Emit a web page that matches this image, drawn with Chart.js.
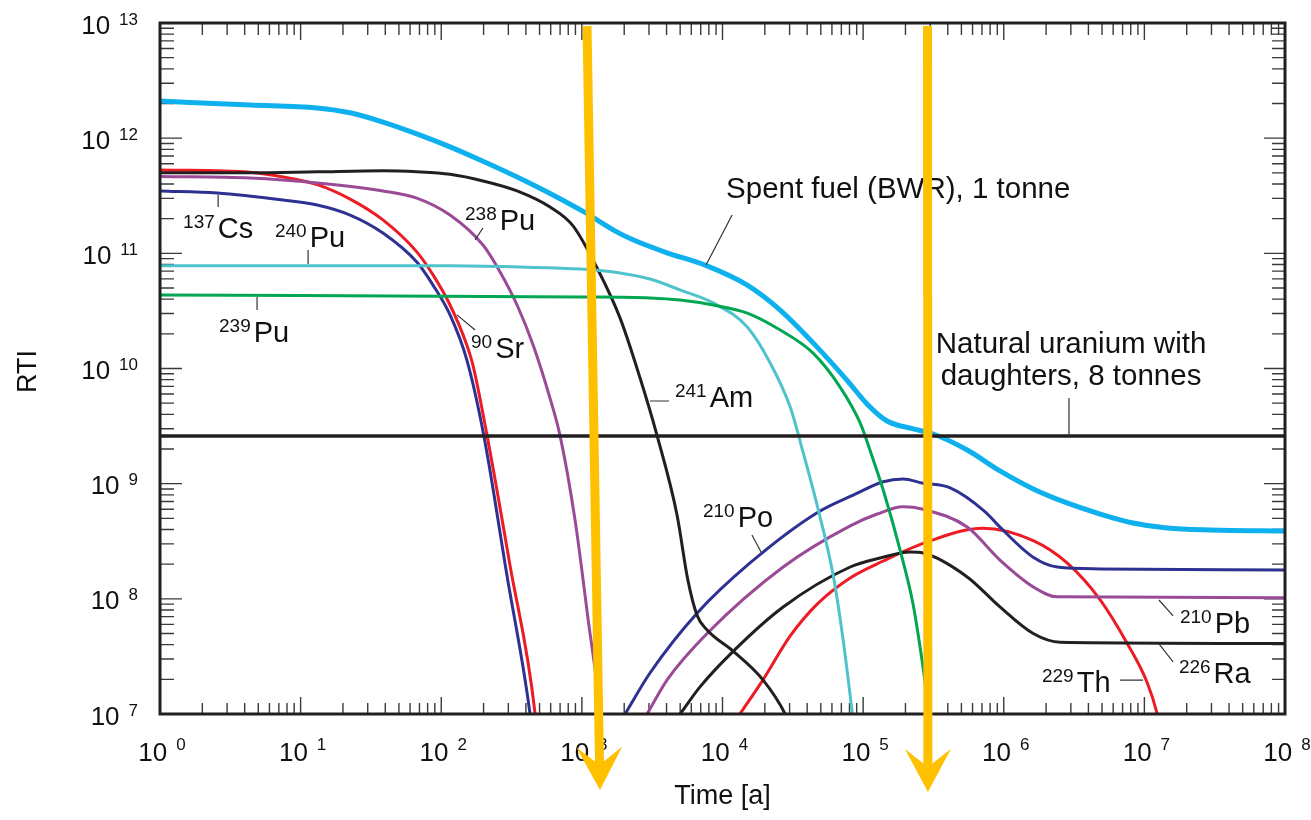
<!DOCTYPE html>
<html>
<head>
<meta charset="utf-8">
<script src="https://cdn.jsdelivr.net/npm/chart.js@4.4.1/dist/chart.umd.min.js"></script>
<style>
  html, body { margin: 0; padding: 0; background: #fff; }
</style>
</head>
<body>
<canvas id="myChart" width="1311" height="820"></canvas>
<script>
// [time in years, RTI]
const spentFuel = [[1, 2.1e12], [4.37, 1.94e12], [13.1, 1.83e12], [22.5, 1.66e12], [38.5, 1.38e12], [67, 1.09e12],
  [115.5, 8.4e11], [198, 6.3e11], [346, 4.6e11], [594, 3.31e11], [1020, 2.31e11], [1730, 1.56e11], [2310, 1.31e11],
  [4030, 1.01e11], [7520, 7.9e10], [15000, 5.3e10], [25700, 3.22e10], [44100, 1.67e10], [76900, 7.9e9],
  [1.07e5, 4.9e9], [1.48e5, 3.5e9], [2.27e5, 2.99e9], [3.15e5, 2.7e9], [5.5e5, 1.96e9], [9.4e5, 1.29e9],
  [1.62e6, 9.0e8], [2.82e6, 6.8e8], [4.85e6, 5.45e8], [8.3e6, 4.56e8], [1.45e7, 4.12e8], [2.94e7, 3.96e8],
  [1e8, 3.89e8]];
const naturalU = [[1, 2.6e9], [1e8, 2.6e9]];
const cs137 = [[1, 3.48e11], [2.54, 3.34e11], [7.5, 2.9e11], [13.1, 2.63e11], [22.5, 2.15e11], [38.5, 1.5e11],
  [67, 8.4e10], [87.4, 5.3e10], [115.5, 2.92e10], [152, 1.19e10], [201, 2.6e9], [293, 1.61e8], [428, 1e7],
  [470, 3.5e6]];
const sr90 = [[1, 5.3e11], [4.37, 5.05e11], [7.5, 4.6e11], [13.1, 3.95e11], [22.5, 2.96e11], [38.5, 1.95e11],
  [67, 1.03e11], [87.4, 6.5e10], [115.5, 3.56e10], [152, 1.6e10], [168, 1.07e10], [212, 2.6e9], [308, 1.97e8],
  [465, 1e7], [500, 3.5e6]];
const pu238 = [[1, 4.65e11], [4.37, 4.5e11], [13.1, 4.08e11], [38.5, 3.48e11], [67, 3.02e11], [115.5, 2.15e11],
  [198, 1.18e11], [262, 6.9e10], [346, 3.56e10], [450, 1.6e10], [594, 5.5e9], [700, 2.6e9], [895, 4.8e8],
  [1110, 6.5e7], [1350, 1e7], [1450, 3e6]];
const am241 = [[1, 5.0e11], [4.37, 5.0e11], [13.1, 5.1e11], [38.5, 5.2e11], [67, 5.1e11], [115.5, 4.85e11],
  [198, 4.25e11], [346, 3.48e11], [594, 2.52e11], [865, 1.73e11], [1283, 7.46e10], [1867, 2.75e10],
  [2590, 8.3e9], [3430, 2.6e9], [4750, 5.35e8], [5670, 1.46e8], [6590, 7.2e7], [7770, 5.37e7], [11900, 3.52e7],
  [19400, 1.98e7], [27900, 1e7], [33000, 6e6]];
const pu240 = [[1, 7.8e10], [115.5, 7.8e10], [363, 7.6e10], [970, 7.3e10], [1867, 6.75e10], [3050, 5.98e10],
  [4990, 4.81e10], [8570, 3.71e10], [15000, 2.29e10], [21800, 1.12e10], [30300, 4.63e9], [37400, 1.88e9],
  [47100, 6.5e8], [61200, 1.61e8], [72100, 4.4e7], [83600, 1.04e7], [92100, 4e6]];
const pu239 = [[1, 4.35e10], [970, 4.18e10], [3050, 4.1e10], [4990, 3.93e10], [8570, 3.56e10], [15000, 3.03e10],
  [25700, 2.16e10], [44100, 1.36e10], [68600, 6.9e9], [95200, 3.37e9], [1.18e5, 1.61e9], [1.39e5, 8.8e8],
  [1.83e5, 2.66e8], [2.27e5, 8.9e7], [2.59e5, 3.26e7], [2.96e5, 1e7], [3.3e5, 4e6]];
const po210 = [[1580, 6e6], [2030, 1e7], [3050, 2.27e7], [6590, 7.5e7], [15700, 2.05e8], [47100, 5.6e8],
  [87700, 8.1e8], [1.39e5, 1.04e9], [1.92e5, 1.1e9], [2.67e5, 1.01e9], [4.16e5, 9.2e8], [7.38e5, 5.7e8],
  [9.4e5, 4.2e8], [1.62e6, 2.3e8], [2.4e6, 1.89e8], [4.85e6, 1.82e8], [1e8, 1.78e8]];
const pb210 = [[2240, 5.8e6], [2910, 1e7], [4030, 1.97e7], [7770, 5.0e7], [27000, 1.89e8], [80900, 4.3e8],
  [1.26e5, 5.45e8], [1.92e5, 6.3e8], [2.67e5, 6.0e8], [5.5e5, 4.2e8], [9.4e5, 2.17e8], [1.62e6, 1.27e8],
  [2.4e6, 1.04e8], [1e8, 1.02e8]];
const ra226 = [[3980, 7e6], [4990, 1e7], [6920, 1.72e7], [11900, 3.5e7], [27000, 8.5e7], [80900, 1.89e8],
  [1.32e5, 2.26e8], [2.16e5, 2.55e8], [2.67e5, 2.5e8], [5.5e5, 1.55e8], [9.4e5, 8.5e7], [1.62e6, 5.0e7],
  [2.52e6, 4.2e7], [1e8, 4.1e7]];
const th229 = [[1e4, 6e6], [13300, 1e7], [19400, 1.98e7], [30300, 4.76e7], [47100, 9.0e7], [80900, 1.52e8],
  [1.39e5, 2.13e8], [2.85e5, 3.12e8], [7.1e5, 4.1e8], [1.62e6, 3.2e8], [2.82e6, 2.05e8], [4.85e6, 9.8e7],
  [7.55e6, 4.1e7], [1.05e7, 1.86e7], [1.23e7, 1.02e7], [1.4e7, 5e6]];

// axis ranges (decade exponents)
const xExps = [0, 1, 2, 3, 4, 5, 6, 7, 8];
const yExps = [7, 8, 9, 10, 11, 12, 13];

// isotope labels: superscript, symbol, anchor (time, RTI) at left/baseline
const isoLabels = [
  ['137', 'Cs', 1.46, 1.36e11], ['240', 'Pu', 6.57, 1.14e11], ['239', 'Pu', 2.63, 1.70e10],
  ['238', 'Pu', 147.6, 1.60e11], ['90', 'Sr', 162.8, 1.23e10], ['241', 'Am', 4592, 4.63e9],
  ['210', 'Po', 7263, 4.21e8], ['210', 'Pb', 1.79e7, 5.05e7], ['226', 'Ra', 1.76e7, 1.86e7],
  ['229', 'Th', 1.87e6, 1.55e7]];
const textLabels = [
  ['Spent fuel (BWR), 1 tonne', 'left', 1.06e4, 3.03e11],
  ['Natural uranium with', 'center', 3.01e6, 1.36e10],
  ['daughters, 8 tonnes', 'center', 3.01e6, 7.19e9]];
const leaders = [
  [1.17e4, 2.15e11, 7640, 7.92e10], [2.91e6, 5.55e9, 2.91e6, 2.6e9], [2.59, 3.21e11, 2.59, 2.53e11],
  [11.3, 1.07e11, 11.3, 8.08e10], [4.9, 4.18e10, 4.9, 3.22e10], [198, 1.66e11, 174, 1.31e11],
  [174, 2.16e10, 129.4, 2.92e10], [3050, 5.22e9, 4170, 5.22e9], [16200, 3.58e8, 18800, 2.55e8],
  [1.27e7, 9.77e7, 1.6e7, 7.1e7], [1.27e7, 4.06e7, 1.6e7, 2.83e7], [6.71e6, 1.97e7, 9.78e6, 1.97e7]];
// highlight arrows: from (time, RTI) to tip (time, RTI)
const arrows = [[1088, 9.4e12, 1345, 2.19e6], [2.87e5, 9.4e12, 2.89e5, 2.1e6]];

const FONT = '"Liberation Sans", Arial, sans-serif';

function toXY(list) {
  return list.map(p => ({ x: p[0], y: p[1] }));
}

function series(list, color, width) {
  return {
    data: toXY(list),
    borderColor: color,
    borderWidth: width,
    pointRadius: 0,
    fill: false,
    cubicInterpolationMode: 'monotone'
  };
}

const decor = {
  id: 'decor',
  beforeDatasetsDraw(chart) {
    const { ctx, chartArea: a, scales: { x, y } } = chart;
    // inner ticks on all four sides
    ctx.save();
    ctx.strokeStyle = '#3a3a3a';
    ctx.lineWidth = 1.4;
    ctx.beginPath();
    xExps.slice(0, -1).forEach(k => {
      for (let m = 1; m <= 9; m++) {
        const px = x.getPixelForValue(m * 10 ** k);
        const major = m === 1;
        ctx.moveTo(px, a.bottom); ctx.lineTo(px, a.bottom - (major ? 17 : 11));
        ctx.moveTo(px, a.top); ctx.lineTo(px, a.top + (major ? 17 : 12));
      }
    });
    yExps.slice(0, -1).forEach(k => {
      for (let m = 1; m <= 9; m++) {
        const py = y.getPixelForValue(m * 10 ** k);
        const major = m === 1;
        ctx.moveTo(a.left, py); ctx.lineTo(a.left + (major ? 22 : 14), py);
        ctx.moveTo(a.right, py); ctx.lineTo(a.right - (major ? 21 : 13), py);
      }
    });
    ctx.stroke();
    ctx.restore();
  },
  afterDatasetsDraw(chart) {
    const { ctx, chartArea: a, scales: { x, y } } = chart;
    ctx.save();

    // frame
    ctx.strokeStyle = '#231f20';
    ctx.lineWidth = 3;
    ctx.strokeRect(a.left, a.top, a.right - a.left, a.bottom - a.top);

    // tick labels 10^k
    ctx.fillStyle = '#111';
    ctx.textBaseline = 'alphabetic';
    const big = '26px ' + FONT, small = '17px ' + FONT;
    xExps.forEach(k => {
      const px = x.getPixelForValue(10 ** k);
      ctx.font = big; const bw = ctx.measureText('10').width;
      ctx.font = small; const ew = ctx.measureText(String(k)).width;
      const left = px - (bw + 9 + ew) / 2 + 2;
      ctx.textAlign = 'left';
      ctx.font = big; ctx.fillText('10', left, a.bottom + 47);
      ctx.font = small; ctx.fillText(String(k), left + bw + 9, a.bottom + 36);
    });
    yExps.forEach(k => {
      const py = y.getPixelForValue(10 ** k);
      const right = a.left - 22;
      ctx.font = small; const ew = ctx.measureText(String(k)).width;
      ctx.textAlign = 'right';
      ctx.fillText(String(k), right, py + 1.5);
      ctx.font = big; ctx.fillText('10', right - ew - 9, py + 10.5);
    });

    // axis titles
    ctx.font = '27px ' + FONT;
    ctx.textAlign = 'center';
    ctx.textBaseline = 'middle';
    ctx.fillText('Time [a]', (a.left + a.right) / 2, a.bottom + 83);
    ctx.save();
    ctx.translate(29, (a.top + a.bottom) / 2 + 3);
    ctx.rotate(-Math.PI / 2);
    ctx.fillText('RTI', 0, 0);
    ctx.restore();

    // leader lines
    ctx.strokeStyle = '#333';
    ctx.lineWidth = 1.2;
    ctx.beginPath();
    leaders.forEach(l => {
      ctx.moveTo(x.getPixelForValue(l[0]), y.getPixelForValue(l[1]));
      ctx.lineTo(x.getPixelForValue(l[2]), y.getPixelForValue(l[3]));
    });
    ctx.stroke();

    // curve labels
    ctx.textBaseline = 'alphabetic';
    ctx.textAlign = 'left';
    isoLabels.forEach(([mass, sym, t, v]) => {
      const px = x.getPixelForValue(t), py = y.getPixelForValue(v);
      ctx.font = '19px ' + FONT;
      const sw = ctx.measureText(mass).width;
      ctx.fillText(mass, px, py - 10);
      ctx.font = '29px ' + FONT;
      ctx.fillText(sym, px + sw + 3, py);
    });
    ctx.font = '29.5px ' + FONT;
    textLabels.forEach(([txt, align, t, v]) => {
      ctx.textAlign = align;
      ctx.fillText(txt, x.getPixelForValue(t), y.getPixelForValue(v));
    });
    ctx.restore();
  },
  afterDraw(chart) {
    const { ctx, scales: { x, y } } = chart;
    ctx.save();
    ctx.strokeStyle = '#ffc000';
    ctx.fillStyle = '#ffc000';
    arrows.forEach(ar => {
      const x0 = x.getPixelForValue(ar[0]), y0 = y.getPixelForValue(ar[1]);
      const x1 = x.getPixelForValue(ar[2]), y1 = y.getPixelForValue(ar[3]);
      const len = Math.hypot(x1 - x0, y1 - y0);
      const ux = (x1 - x0) / len, uy = (y1 - y0) / len;
      const nx = -uy, ny = ux;
      const notchX = x1 - ux * 25, notchY = y1 - uy * 25;
      const baseX = x1 - ux * 43, baseY = y1 - uy * 43;
      ctx.lineWidth = 9;
      ctx.beginPath();
      ctx.moveTo(x0, y0);
      ctx.lineTo(notchX, notchY);
      ctx.stroke();
      ctx.beginPath();
      ctx.moveTo(x1, y1);
      ctx.lineTo(baseX + nx * 23, baseY + ny * 23);
      ctx.lineTo(notchX, notchY);
      ctx.lineTo(baseX - nx * 23, baseY - ny * 23);
      ctx.closePath();
      ctx.fill();
    });
    ctx.restore();
  }
};

const ctx = document.getElementById('myChart').getContext('2d');
const myChart = new Chart(ctx, {
  type: 'line',
  data: {
    datasets: [
      series(naturalU, '#231f20', 3.5),
      series(pu239, '#00a651', 3),
      series(pu240, '#4fc3cc', 3),
      series(am241, '#231f20', 3),
      series(pu238, '#9b4a96', 3),
      series(sr90, '#ed1c24', 3),
      series(cs137, '#2e3192', 3),
      series(po210, '#2e3192', 3),
      series(pb210, '#9b4a96', 3),
      series(ra226, '#231f20', 3),
      series(th229, '#ed1c24', 3),
      series(spentFuel, '#0fb0ee', 5)
    ]
  },
  options: {
    responsive: false,
    animation: false,
    layout: { padding: { left: 160, right: 26, top: 23, bottom: 106 } },
    plugins: { legend: { display: false }, tooltip: { enabled: false } },
    scales: {
      x: { type: 'logarithmic', min: 1, max: 1e8, display: false },
      y: { type: 'logarithmic', min: 1e7, max: 1e13, display: false }
    }
  },
  plugins: [decor]
});
</script>
</body>
</html>
